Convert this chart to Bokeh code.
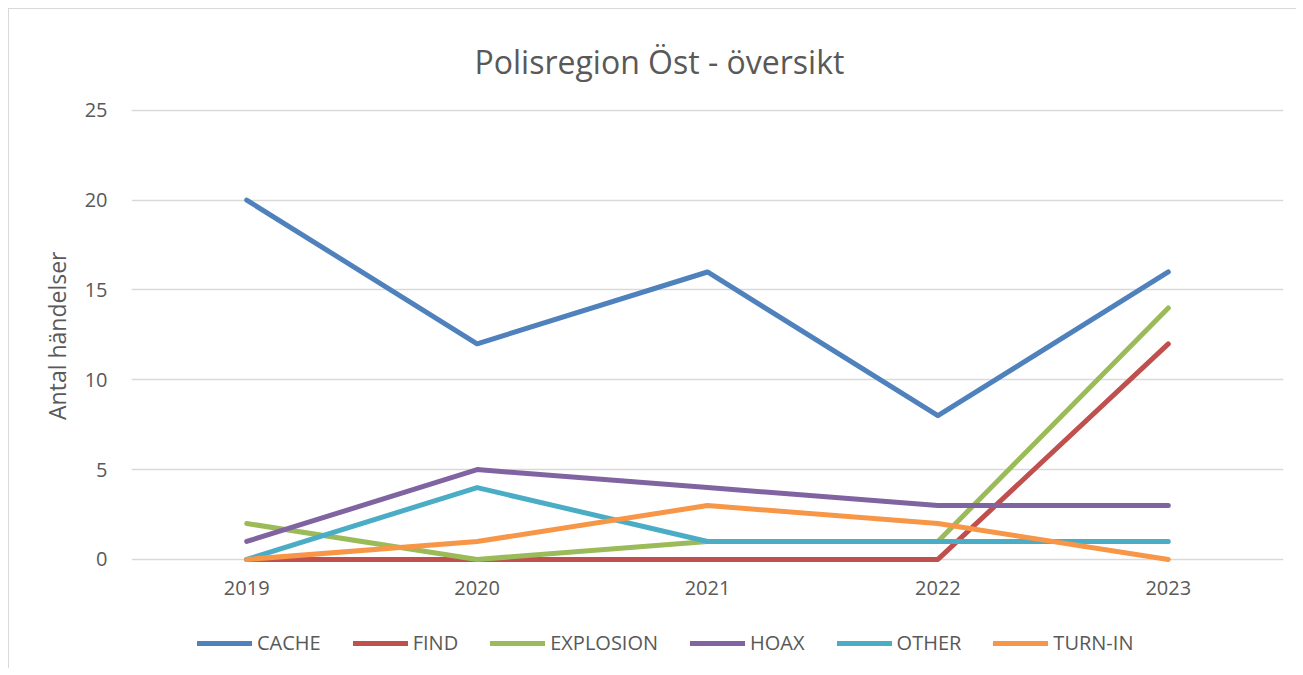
from bokeh.plotting import figure
from bokeh.models import (Range1d, FactorRange, Legend, LegendItem,
                          FixedTicker, Title)
from bokeh.embed import file_html
from bokeh.resources import INLINE

years = ["2019", "2020", "2021", "2022", "2023"]
cache = [20, 12, 16, 8, 16]
find = [0, 0, 0, 0, 12]
explosion = [2, 0, 1, 1, 14]
hoax = [1, 5, 4, 3, 3]
other = [0, 4, 1, 1, 1]
turn_in = [0, 1, 3, 2, 0]
y_ticks = [0, 5, 10, 15, 20, 25]

series = [
    ("CACHE", cache, "#4f81bd"),
    ("FIND", find, "#c0504d"),
    ("EXPLOSION", explosion, "#9bbb59"),
    ("HOAX", hoax, "#8064a2"),
    ("OTHER", other, "#4bacc6"),
    ("TURN-IN", turn_in, "#f79646"),
]

FONT = "Open Sans"
TXT = "#595959"

p = figure(x_range=FactorRange(*years), y_range=Range1d(-6.07, 25.1),
           frame_width=1152, frame_height=560,
           min_border_left=122, min_border_right=13,
           min_border_top=99, min_border_bottom=0,
           x_axis_location="above",
           output_backend="svg", toolbar_location=None,
           title="Polisregion Öst - översikt",
           styles={"margin-left": "8px", "margin-top": "8px",
                   "border-left": "1px solid #d9d9d9",
                   "border-top": "1px solid #d9d9d9"})

p.title.text_font = FONT
p.title.text_font_size = "32px"
p.title.text_font_style = "normal"
p.title.text_color = TXT
p.title.align = "left"
p.title.vertical_align = "top"
p.title.offset = 343
p.title.standoff = 48

p.outline_line_color = None
p.background_fill_color = "white"
p.border_fill_color = "white"
p.xgrid.grid_line_color = None
p.ygrid.grid_line_color = "#d9d9d9"
p.ygrid.grid_line_width = 1.3
p.yaxis.ticker = FixedTicker(ticks=y_ticks)

for ax in (p.xaxis[0], p.yaxis[0]):
    ax.axis_line_color = None
    ax.major_tick_line_color = None
    ax.minor_tick_line_color = None
    ax.major_tick_in = 0
    ax.major_tick_out = 0
    ax.minor_tick_in = 0
    ax.minor_tick_out = 0
    ax.major_label_text_font = FONT
    ax.major_label_text_font_size = "20px"
    ax.major_label_text_color = TXT

p.xaxis.fixed_location = 0
p.xaxis.major_tick_out = 20
p.xaxis.major_label_standoff = -56
p.yaxis.major_label_standoff = 24

ylab = Title(text="Antal händelser", align="right", offset=143,
             standoff=18, text_font=FONT, text_font_size="23px",
             text_font_style="normal", text_color=TXT)
p.add_layout(ylab, "left")

items = []
for name, vals, col in series:
    r = p.line(x=years, y=vals, line_color=col, line_width=5,
               line_cap="round", line_join="round")
    items.append(LegendItem(label=name, renderers=[r]))

legend = Legend(items=items, orientation="horizontal",
                location=(66, 12), padding=0, margin=0,
                spacing=32, glyph_width=55, glyph_height=20,
                label_standoff=5, border_line_color=None,
                background_fill_alpha=0,
                label_text_font=FONT, label_text_font_size="20px",
                label_text_color=TXT)
p.add_layout(legend, "center")

open("out.html", "w").write(file_html(p, INLINE))
